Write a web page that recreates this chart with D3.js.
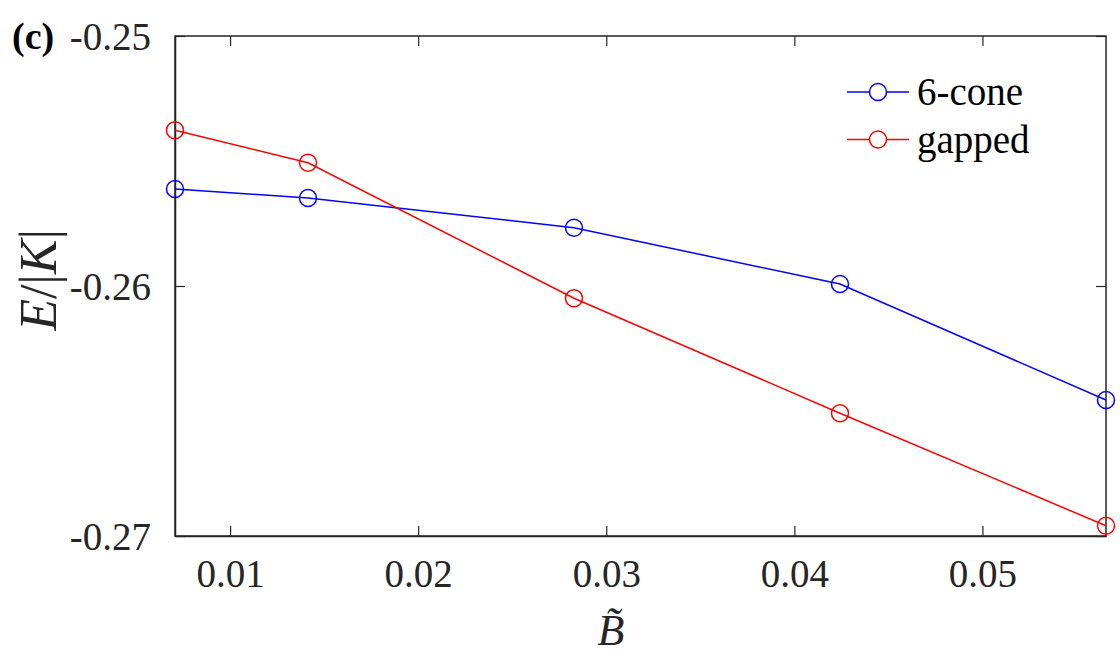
<!DOCTYPE html>
<html>
<head>
<meta charset="utf-8">
<script src="https://cdn.jsdelivr.net/npm/d3@7"></script>
<style>
  body { margin: 0; background: #fff; }
</style>
</head>
<body>
<script>
// field values and energies
var bField = [0.007071, 0.014142, 0.028284, 0.042426, 0.056569];
var coneE = [-0.25612, -0.25648, -0.25767, -0.25992, -0.26456];
var gappedE = [-0.25377, -0.25507, -0.26049, -0.26509, -0.26959];
var xTicks = [0.01, 0.02, 0.03, 0.04, 0.05];
var yTicks = [-0.25, -0.26, -0.27];
var seriesNames = ["6-cone", "gapped"];
var seriesColors = ["#0000ff", "#ff0000"];

var width = 1120, height = 657;
var margin = {top: 36, right: 14, bottom: 121, left: 175};
var serif = '"Times New Roman", Tinos, "Liberation Serif", "Nimbus Roman", FreeSerif, "Noto Serif", "DejaVu Serif", Times, serif';

const svg = d3.select("body")
    .append("svg")
    .attr("width", width)
    .attr("height", height);

var xscale = d3.scaleLinear()
    .domain([bField[0], bField[bField.length - 1]])
    .range([margin.left, width - margin.right]);

var yscale = d3.scaleLinear()
    .domain([-0.27, -0.25])
    .range([height - margin.bottom, margin.top]);

var axisColor = "#262626";
// plain hyphen for the minus, like the original
var fmt = d => d3.format(".2f")(d).replace("\u2212", "-");

// bottom + top axes (ticks pointing inward)
svg.append("g")
    .attr("transform", `translate(0,${height - margin.bottom})`)
    .call(d3.axisBottom(xscale).tickValues(xTicks).tickSize(-10).tickPadding(16).tickFormat(fmt).tickSizeOuter(0))
    .call(g => g.selectAll("text").attr("font-size", 39).attr("fill", axisColor).attr("dy", "0.9em"));

svg.append("g")
    .attr("transform", `translate(0,${margin.top})`)
    .call(d3.axisTop(xscale).tickValues(xTicks).tickSize(-10).tickFormat("").tickSizeOuter(0))
    .call(g => g.select(".domain").remove());

// left + right axes
svg.append("g")
    .attr("transform", `translate(${margin.left},0)`)
    .call(d3.axisLeft(yscale).tickValues(yTicks).tickSize(-10).tickPadding(24).tickFormat(fmt).tickSizeOuter(0))
    .call(g => g.selectAll("text").attr("font-size", 39).attr("fill", axisColor).attr("dy", "0.34em"));

svg.append("g")
    .attr("transform", `translate(${width - margin.right},0)`)
    .call(d3.axisRight(yscale).tickValues(yTicks).tickSize(-10).tickFormat("").tickSizeOuter(0))
    .call(g => g.select(".domain").remove());

// box
svg.append("rect")
    .attr("x", margin.left)
    .attr("y", margin.top)
    .attr("width", width - margin.left - margin.right)
    .attr("height", height - margin.top - margin.bottom)
    .attr("fill", "none")
    .attr("stroke", axisColor)
    .attr("stroke-width", 1.5);

svg.selectAll(".tick line").attr("stroke", axisColor).attr("stroke-width", 1.2);
svg.selectAll(".domain").attr("stroke", axisColor).attr("stroke-width", 1.5);

var allSeries = [coneE, gappedE];

var line = d3.line()
    .x((d, i) => xscale(bField[i]))
    .y(d => yscale(d));

allSeries.forEach(function(vals, k) {
    svg.append("path")
        .datum(vals)
        .attr("fill", "none")
        .attr("stroke", seriesColors[k])
        .attr("stroke-width", 1.5)
        .attr("d", line);

    svg.append("g")
        .selectAll("circle")
        .data(vals)
        .join("circle")
        .attr("cx", (d, i) => xscale(bField[i]))
        .attr("cy", d => yscale(d))
        .attr("r", 8.5)
        .attr("fill", "none")
        .attr("stroke", seriesColors[k])
        .attr("stroke-width", 1.5);
});

// legend
var legend = svg.append("g").attr("transform", "translate(847,92)");
seriesNames.forEach(function(name, k) {
    var g = legend.append("g").attr("transform", `translate(0,${k * 47.5})`);
    g.append("line")
        .attr("x1", 0).attr("x2", 62)
        .attr("stroke", seriesColors[k])
        .attr("stroke-width", 1.5);
    g.append("circle")
        .attr("cx", 31).attr("r", 8.5)
        .attr("fill", "#fff")
        .attr("stroke", seriesColors[k])
        .attr("stroke-width", 1.5);
    g.append("text")
        .attr("x", 70)
        .attr("dy", "0.34em")
        .attr("font-size", 39)
        .attr("fill", "#000")
        .text(name);
});

// panel tag
svg.append("text")
    .attr("x", 12)
    .attr("y", 49)
    .attr("font-size", 38)
    .attr("font-weight", "bold")
    .text("(c)");

// y label E/|K|
var ylab = svg.append("text")
    .attr("transform", "translate(56,280) rotate(-90)")
    .attr("text-anchor", "middle")
    .attr("font-size", 52)
    .attr("fill", axisColor);
ylab.append("tspan").attr("font-style", "italic").text("E");
ylab.append("tspan").text("/|");
ylab.append("tspan").attr("font-style", "italic").text("K");
ylab.append("tspan").text("|");

// x label B-tilde
svg.append("text")
    .attr("x", 611)
    .attr("y", 645)
    .attr("text-anchor", "middle")
    .attr("font-size", 44)
    .attr("font-style", "italic")
    .attr("fill", axisColor)
    .text("B\u0303");

// force the serif face on every text, inline
svg.selectAll("text").style("font-family", serif);
</script>
</body>
</html>
